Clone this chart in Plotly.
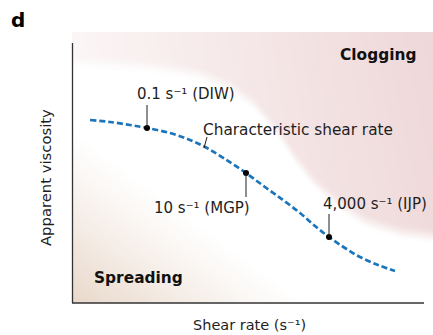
import base64
import struct
import zlib

import numpy as np
import plotly.graph_objects as go

# Schematic flow curve: apparent viscosity vs shear rate (arbitrary plot units)
shear_pos = [18, 38, 58, 75, 98, 118, 135, 153, 174, 193, 211, 228, 243, 257, 273, 288, 306, 323]
viscosity = [183, 181, 178, 175, 170, 163, 155, 144, 130, 116, 103, 90, 77, 66, 55, 46, 38, 32]

# Characteristic shear rates of three printing processes
process_labels = ["0.1 s⁻¹ (DIW)", "10 s⁻¹ (MGP)", "4,000 s⁻¹ (IJP)"]
process_x = [75, 174, 257]
process_y = [175, 130, 66]

# Upper edge of the white "printable" band (clogging region above it)
clog_edge_x = [1, 78, 128, 158, 183, 203, 223, 243, 268, 295, 328, 361]
clog_edge_y = [241, 237, 229, 217, 198, 175, 145, 120, 98, 81, 71, 67]

W, H = 361, 271          # background image size (plot units == pixels)
XR = (-2, 361)           # axis ranges
YR = (-2, 271)
BLUE = "#1b75bb"
INK = "#1e1e1e"
FONT = "DejaVu Sans"


def png_uri(rgb):
    h, w, _ = rgb.shape
    raw = b"".join(b"\x00" + rgb[r].tobytes() for r in range(h))

    def chunk(tag, data):
        c = struct.pack(">I", len(data)) + tag + data
        return c + struct.pack(">I", zlib.crc32(tag + data) & 0xFFFFFFFF)

    png = (b"\x89PNG\r\n\x1a\n"
           + chunk(b"IHDR", struct.pack(">IIBBBBB", w, h, 8, 2, 0, 0, 0))
           + chunk(b"IDAT", zlib.compress(raw, 9))
           + chunk(b"IEND", b""))
    return "data:image/png;base64," + base64.b64encode(png).decode()


def smoothstep(t):
    t = np.clip(t, 0, 1)
    return t * t * (3 - 2 * t)


def to_paper(x, y):
    return (x - XR[0]) / (XR[1] - XR[0]), (y - YR[0]) / (YR[1] - YR[0])


# Background: pink "clogging" wash top-right, beige "spreading" wash bottom-left
xs = np.arange(W) + 0.5
ys = H - (np.arange(H) + 0.5)          # row 0 is the top of the image
X, Y = np.meshgrid(xs, ys)
edge = np.interp(X, clog_edge_x, clog_edge_y)
pink_a = smoothstep((Y - edge + 9) / 18) * (0.22 + 0.70 * (X / W)) * (0.88 + 0.12 * Y / H)
t = (Y + 0.74 * X) / 175.0
beige_a = np.clip(1 - t, 0, 1) ** 1.1
pink = np.array([237, 212, 213])
beige = np.array([233, 216, 202])
img = 255 - pink_a[..., None] * (255 - pink) - beige_a[..., None] * (255 - beige)
img = np.clip(np.round(img), 0, 255).astype(np.uint8)

fig = go.Figure()

fig.add_trace(go.Scatter(
    x=shear_pos, y=viscosity, mode="lines",
    line=dict(color=BLUE, width=2.7, dash="6px,3px", shape="spline", smoothing=1.0),
    hoverinfo="skip", showlegend=False,
))
fig.add_trace(go.Scatter(
    x=process_x, y=process_y, mode="markers",
    marker=dict(color="black", size=6),
    hoverinfo="skip", showlegend=False,
))

shapes = []
# leader lines from each marked point to its label
leader_ends = [198, 106, 89]
for px, py, ly in zip(process_x, process_y, leader_ends):
    shapes.append(dict(type="line", x0=px, x1=px, y0=py, y1=ly,
                       line=dict(color=INK, width=1)))
shapes.append(dict(type="line", x0=132, x1=135, y0=155, y1=166,
                   line=dict(color=INK, width=1)))
# axis lines
shapes.append(dict(type="line", x0=0.5, x1=0.5, y0=0, y1=260,
                   line=dict(color="#333333", width=1.3)))
shapes.append(dict(type="line", x0=0, x1=352, y0=0, y1=0,
                   line=dict(color="#333333", width=1.3)))


def note(x, y, text, size=15, anchor="center", angle=0, color=INK):
    px, py = to_paper(x, y)
    return dict(x=px, y=py, xref="paper", yref="paper", text=text, textangle=angle,
                xanchor=anchor, yanchor="middle", showarrow=False,
                font=dict(family=FONT, size=size, color=color))


label_pos = [(114, 209), (130, 95), (303, 99)]
annotations = [note(x, y, text) for text, (x, y) in zip(process_labels, label_pos)]
annotations += [
    note(129, 173, "Characteristic shear rate", size=15.3, anchor="left"),
    note(346, 248, "<b>Clogging</b>", size=15.4, anchor="right", color="#111111"),
    note(20, 25, "<b>Spreading</b>", size=15.4, anchor="left", color="#111111"),
    note(-27, 125, "Apparent viscosity", size=14.8, angle=-90),
    note(177, -22, "Shear rate (s⁻¹)", size=14.5),
    note(-54, 283, "<b>d</b>", size=20, color="#000000"),
]

fig.update_layout(
    width=433, height=335,
    margin=dict(l=70, r=0, t=32, b=30),
    paper_bgcolor="white", plot_bgcolor="white",
    xaxis=dict(range=list(XR), visible=False, fixedrange=True),
    yaxis=dict(range=list(YR), visible=False, fixedrange=True),
    shapes=shapes, annotations=annotations,
    images=[dict(source=png_uri(img), xref="x", yref="y", x=0, y=H, sizex=W, sizey=H,
                 sizing="stretch", layer="below", xanchor="left", yanchor="top")],
)

fig.write_html("out.html")
